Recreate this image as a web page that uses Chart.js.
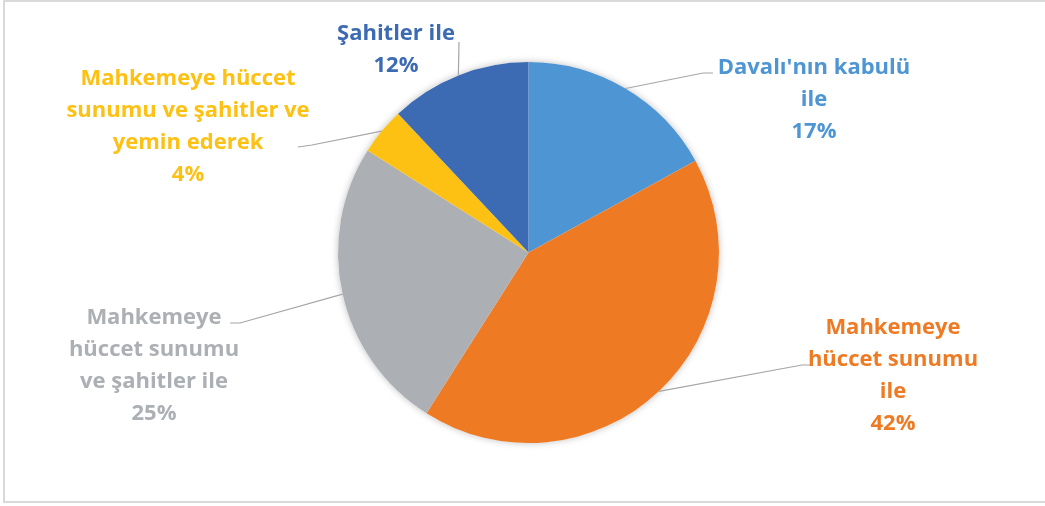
<!DOCTYPE html>
<html lang="tr">
<head>
    <meta charset="UTF-8" />
    <title>Pasta grafiği</title>
    <script src="https://cdn.jsdelivr.net/npm/chart.js"></script>
    <style>
        html, body { margin: 0; padding: 0; background: #fff; }
        #wrap { width: 1045px; height: 506px; position: relative; }
    </style>
</head>
<body>
    <div id="wrap">
        <canvas id="chart"></canvas>
    </div>

    <script>
        // Veriler
        const categories = [
            "Davalı'nın kabulü ile",
            'Mahkemeye hüccet sunumu ile',
            'Mahkemeye hüccet sunumu ve şahitler ile',
            'Mahkemeye hüccet sunumu ve şahitler ve yemin ederek',
            'Şahitler ile'
        ];
        const shares = [17, 42, 25, 4, 12];
        const labelLines = [
            ["Davalı'nın kabulü", 'ile'],
            ['Mahkemeye', 'hüccet sunumu', 'ile'],
            ['Mahkemeye', 'hüccet sunumu', 've şahitler ile'],
            ['Mahkemeye hüccet', 'sunumu ve şahitler ve', 'yemin ederek'],
            ['Şahitler ile']
        ];
        const colors = ['#4E95D3', '#EE7B24', '#ACAFB3', '#FDC113', '#3C6BB4'];

        // Etiket yerleşimi (metin merkezi, ilk satır, kılavuz çizgisi kırılma noktası)
        const labelLayout = [
            { x: 814, y: 68, elbow: [703, 73], end: [713, 73] },
            { x: 893, y: 328, elbow: [802, 365], end: [812, 365] },
            { x: 154, y: 318, elbow: [240, 323], end: [230, 323] },
            { x: 188, y: 79, elbow: [312, 145], end: [298, 147] },
            { x: 396, y: 34, elbow: [459, 42], end: null }
        ];
        const lineHeight = 32;
        const fontSpec = 'bold 22px "Open Sans"';

        // Gölge + çerçeve
        const shadowPlugin = {
            id: 'pieShadow',
            beforeDatasetsDraw(chart) {
                const arc = chart.getDatasetMeta(0).data[0];
                if (!arc) return;
                const ctx = chart.ctx;
                ctx.save();
                ctx.shadowColor = 'rgba(0,0,0,0.25)';
                ctx.shadowBlur = 7;
                ctx.fillStyle = '#fff';
                ctx.beginPath();
                ctx.arc(arc.x, arc.y, arc.outerRadius, 0, Math.PI * 2);
                ctx.fill();
                ctx.restore();
            },
            afterDraw(chart) {
                const ctx = chart.ctx;
                ctx.save();
                ctx.strokeStyle = '#D9D9D9';
                ctx.lineWidth = 2;
                ctx.strokeRect(4, 1, 1045, 501);
                ctx.restore();
            }
        };

        // Dış etiketler ve kılavuz çizgileri
        const outLabels = {
            id: 'outLabels',
            afterDatasetsDraw(chart) {
                const ctx = chart.ctx;
                const meta = chart.getDatasetMeta(0);
                ctx.save();
                meta.data.forEach((arc, i) => {
                    const p = arc.getProps(['x', 'y', 'startAngle', 'endAngle', 'outerRadius'], true);
                    const mid = (p.startAngle + p.endAngle) / 2;
                    const sx = p.x + Math.cos(mid) * p.outerRadius;
                    const sy = p.y + Math.sin(mid) * p.outerRadius;
                    const lay = labelLayout[i];

                    ctx.strokeStyle = '#A6A6A6';
                    ctx.lineWidth = 1.2;
                    ctx.beginPath();
                    ctx.moveTo(sx, sy);
                    ctx.lineTo(lay.elbow[0], lay.elbow[1]);
                    if (lay.end) ctx.lineTo(lay.end[0], lay.end[1]);
                    ctx.stroke();

                    const lines = labelLines[i].concat([shares[i] + '%']);
                    ctx.fillStyle = colors[i];
                    ctx.font = fontSpec;
                    ctx.textAlign = 'center';
                    ctx.textBaseline = 'middle';
                    lines.forEach((t, k) => {
                        ctx.fillText(t, lay.x, lay.y + k * lineHeight);
                    });
                });
                ctx.restore();
            }
        };

        const ctx = document.getElementById('chart').getContext('2d');
        new Chart(ctx, {
            type: 'pie',
            data: {
                labels: categories,
                datasets: [{
                    data: shares,
                    backgroundColor: colors,
                    borderWidth: 0
                }]
            },
            options: {
                responsive: true,
                maintainAspectRatio: false,
                animation: false,
                layout: { padding: { top: 62, bottom: 63, left: 12, right: 0 } },
                plugins: {
                    legend: { display: false },
                    tooltip: { enabled: false }
                }
            },
            plugins: [shadowPlugin, outLabels]
        });
    </script>
</body>
</html>
